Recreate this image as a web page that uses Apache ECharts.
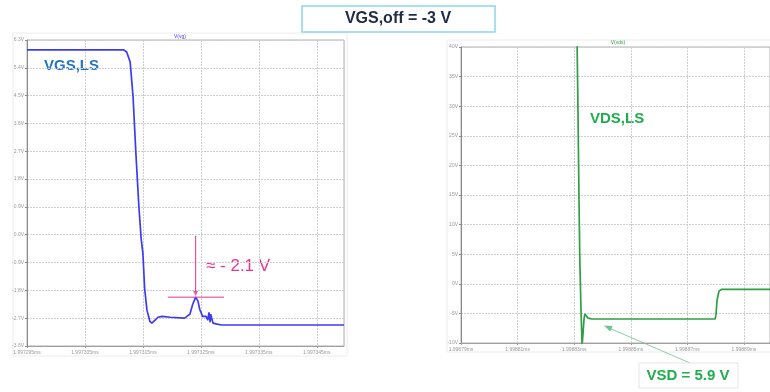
<!DOCTYPE html>
<html>
<head>
<meta charset="utf-8">
<script src="https://cdn.jsdelivr.net/npm/echarts@6/dist/echarts.min.js"></script>
<style>
  html, body { margin: 0; padding: 0; background: #fff; }
  #chart { width: 770px; height: 392px; }
</style>
</head>
<body>
<div id="chart"></div>
<script>
// time offsets in ns from the first x tick, voltages in V
const vgsTime = [0, 16.7, 17.2, 17.8, 18.3, 18.8, 19.3, 19.7, 20.0, 20.3, 20.7, 21.2, 21.55, 22.1, 22.6, 23.3, 24.7, 27.2, 28.1, 28.6, 29.1, 29.5, 29.8, 30.3, 30.9, 31.2, 31.4, 31.6, 31.7, 32.1, 32.8, 33.6, 35.0, 54.7];
const vgsValue = [5.98, 5.98, 5.91, 5.59, 4.47, 2.6, 0.93, -0.13, -0.61, -1.74, -2.44, -2.8, -2.86, -2.76, -2.67, -2.64, -2.67, -2.7, -2.57, -2.25, -2.02, -2.15, -2.41, -2.64, -2.64, -2.76, -2.51, -2.83, -2.57, -2.86, -2.89, -2.92, -2.92, -2.92];

const vdsTime = [0, 40.9, 41.3, 41.7, 42.0, 42.4, 42.8, 43.1, 43.5, 43.8, 44.2, 44.9, 46.3, 89.8, 90.1, 90.5, 91.2, 92.2, 109.2];
const vdsValue = [48, 45, 31.0, 14.2, 4.0, -4.4, -10.3, -8.6, -5.8, -5.1, -5.4, -5.8, -5.95, -5.95, -5.3, -2.7, -1.2, -0.94, -0.94];

const vgsXStart = 1.997295; // ms
const vdsXStart = 1.99879;  // ms

// peak marker on the VGS plot: [t, v]
const peakLine = [[24.3, -2.02], [34.0, -2.02]];
const peakArrow = [[29.1, -0.03], [29.1, -1.85]];
const peakArrowHead = [29.1, -1.9];

const pink = '#e8348c';
const blue = '#3b3bf2';
const green = '#2f9e44';
const font = 'Liberation Sans, Arial, sans-serif';

const chart = echarts.init(document.getElementById('chart'), null, { renderer: 'canvas' });

const axisLabelStyle = { color: '#999', fontSize: 5, fontFamily: font };
const splitDotted = { show: true, lineStyle: { color: '#cfcfcf', type: [2, 1], width: 1 } };

function pinkSegment(data) {
  return {
    type: 'line', xAxisIndex: 0, yAxisIndex: 0, silent: true,
    showSymbol: false, z: 3,
    lineStyle: { color: pink, width: 1 }, itemStyle: { color: pink },
    data,
  };
}

chart.setOption({
  animation: false,
  grid: [
    { left: 27, top: 40, right: 426, bottom: 46, show: true, borderColor: '#b0b0b0', borderWidth: 1 },
    { left: 461, top: 47, right: 0, bottom: 49, show: true, borderColor: '#b0b0b0', borderWidth: 1 },
  ],
  xAxis: [
    {
      type: 'value', gridIndex: 0, min: 0, max: 54.7, interval: 10,
      axisLine: { onZero: false, lineStyle: { color: '#a0a0a0' } },
      axisTick: { show: true, length: 2, lineStyle: { color: '#a0a0a0' } },
      axisLabel: { ...axisLabelStyle, margin: 4, showMaxLabel: false,
        formatter: v => (vgsXStart + v * 1e-6).toFixed(6) + 'ms' },
      splitLine: splitDotted,
    },
    {
      type: 'value', gridIndex: 1, min: 0, max: 109.2, interval: 20,
      axisLine: { onZero: false, lineStyle: { color: '#a0a0a0' } },
      axisTick: { show: true, length: 2, lineStyle: { color: '#a0a0a0' } },
      axisLabel: { ...axisLabelStyle, margin: 4, showMaxLabel: false,
        formatter: v => (vdsXStart + v * 1e-6).toFixed(5) + 'ms' },
      splitLine: splitDotted,
    },
  ],
  yAxis: [
    {
      type: 'value', gridIndex: 0, min: -3.6, max: 6.3, interval: 0.9,
      axisLine: { show: true, onZero: false, lineStyle: { color: '#8a8a8a' } },
      axisTick: { show: true, length: 2, lineStyle: { color: '#8a8a8a' } },
      axisLabel: { ...axisLabelStyle, margin: 3, formatter: v => v.toFixed(1) + 'V' },
      splitLine: splitDotted,
    },
    {
      type: 'value', gridIndex: 1, min: -10, max: 40, interval: 5,
      axisLine: { show: true, onZero: false, lineStyle: { color: '#8a8a8a' } },
      axisTick: { show: true, length: 2, lineStyle: { color: '#8a8a8a' } },
      axisLabel: { ...axisLabelStyle, margin: 3, formatter: v => Math.round(v) + 'V' },
      splitLine: splitDotted,
    },
  ],
  series: [
    {
      name: 'V(vg)', type: 'line', xAxisIndex: 0, yAxisIndex: 0,
      showSymbol: false, clip: true,
      lineStyle: { color: blue, width: 1.7 },
      data: vgsTime.map((t, i) => [t, vgsValue[i]]),
    },
    {
      name: 'V(vds)', type: 'line', xAxisIndex: 1, yAxisIndex: 1,
      showSymbol: false, clip: true,
      lineStyle: { color: green, width: 1.7 },
      data: vdsTime.map((t, i) => [t, vdsValue[i]]),
    },
    pinkSegment(peakLine),
    pinkSegment(peakArrow),
    {
      type: 'scatter', xAxisIndex: 0, yAxisIndex: 0, silent: true, z: 3,
      symbol: 'triangle', symbolRotate: 180, symbolSize: [5, 5],
      itemStyle: { color: pink },
      data: [peakArrowHead],
    },
  ],
  graphic: [
    // faint panel frames
    { type: 'rect', shape: { x: 13, y: 33, width: 334, height: 323 }, style: { fill: 'none', stroke: '#ececec', lineWidth: 1 }, z: -1 },
    { type: 'rect', shape: { x: 447, y: 40, width: 330, height: 312 }, style: { fill: 'none', stroke: '#ececec', lineWidth: 1 }, z: -1 },
    // headline box
    { type: 'rect', shape: { x: 302, y: 6, width: 193, height: 26 }, style: { fill: '#fff', stroke: '#8fd4f2', lineWidth: 1.5 } },
    { type: 'text', x: 398, y: 19, style: { text: 'VGS,off = -3 V', font: 'bold 16px ' + font, fill: '#1f2a44', align: 'center', verticalAlign: 'middle' } },
    // trace names
    { type: 'text', x: 180, y: 37, style: { text: 'V(vg)', font: '5px ' + font, fill: blue, align: 'center', verticalAlign: 'middle' } },
    { type: 'text', x: 618, y: 43, style: { text: 'V(vds)', font: '5px ' + font, fill: green, align: 'center', verticalAlign: 'middle' } },
    { type: 'text', x: 44, y: 66, style: { text: 'VGS,LS', font: 'bold 15px ' + font, fill: '#1f73c8', verticalAlign: 'middle' } },
    { type: 'text', x: 590, y: 119, style: { text: 'VDS,LS', font: 'bold 15px ' + font, fill: '#1fae4e', verticalAlign: 'middle' } },
    // peak annotation
    { type: 'text', x: 206, y: 266, style: { text: '≈ - 2.1 V', font: '17px ' + font, fill: pink, verticalAlign: 'middle' } },
    // VSD callout
    { type: 'line', shape: { x1: 690, y1: 363, x2: 609, y2: 328 }, style: { stroke: '#6cc58a', lineWidth: 0.8 } },
    { type: 'polygon', shape: { points: [[604, 325.5], [612.6, 326.0], [610.2, 331.5]] }, style: { fill: '#6cc58a' } },
    { type: 'rect', shape: { x: 639, y: 363, width: 99, height: 25 }, style: { fill: '#fff', stroke: '#e6e6e6', lineWidth: 1 } },
    { type: 'text', x: 688, y: 376, style: { text: 'VSD = 5.9 V', font: 'bold 15px ' + font, fill: '#1fae4e', align: 'center', verticalAlign: 'middle' } },
  ],
});
</script>
</body>
</html>
